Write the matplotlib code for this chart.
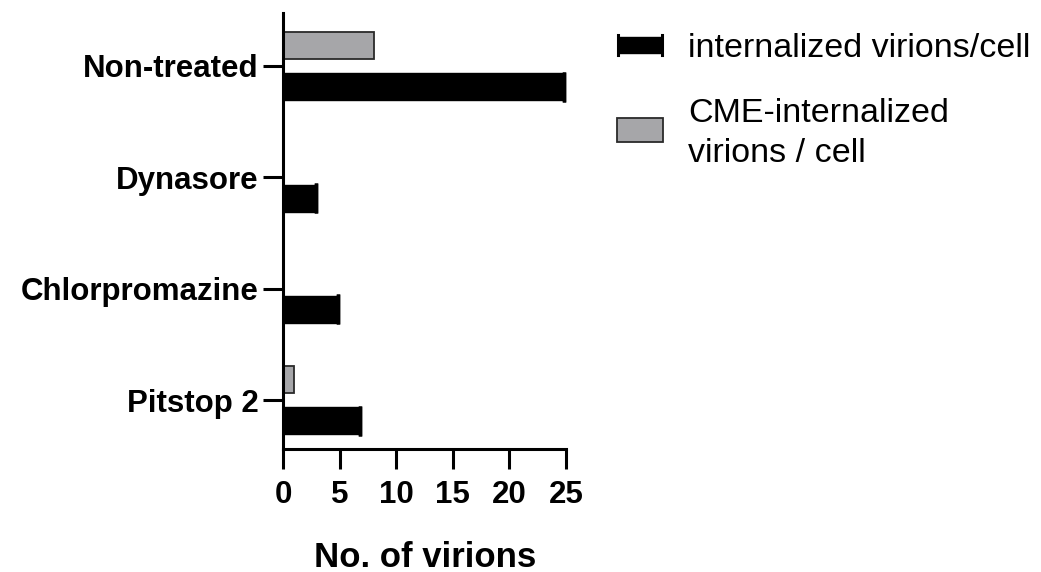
import matplotlib
matplotlib.use("Agg")
import matplotlib.pyplot as plt
from matplotlib.patches import Rectangle
import numpy as np

categories = ["Non-treated", "Dynasore", "Chlorpromazine", "Pitstop 2"]
internalized = [24.8, 2.9, 4.9, 6.8]
cme_internalized = [8.0, 0.0, 0.0, 1.0]
series_labels = ["internalized virions/cell", "CME-internalized", "virions / cell"]
xticks = [0, 5, 10, 15, 20, 25]

plt.rcParams['font.family'] = ['Liberation Sans', 'DejaVu Sans']

W, H = 1041, 572
fig = plt.figure(figsize=(W / 100, H / 100), dpi=100)
ax = fig.add_axes([283 / W, (H - 449) / H, (566 - 283) / W, (449 - 13) / H])

y = np.arange(len(categories))
off = 0.187
h = 0.245
grey = "#a6a6a9"

ax.barh(y - off, cme_internalized, height=h, color=grey, edgecolor="#2a2a2a", linewidth=1.3, zorder=2)
ax.barh(y + off, internalized, height=h, color="black", edgecolor="black", linewidth=1, zorder=2)
ax.errorbar(internalized, y + off, xerr=np.zeros(len(internalized)), fmt="none",
            ecolor="black", capsize=10.5, capthick=2.5, elinewidth=0, zorder=3)

ax.set_xlim(0, 25)
ax.set_ylim(3.44, -0.476)
ax.set_xticks(xticks)
ax.set_xticklabels([str(t) for t in xticks], fontsize=22.5, fontweight="bold")
ax.set_yticks(y)
ax.set_yticklabels(categories, fontsize=22.5, fontweight="bold")

for s in ["top", "right"]:
    ax.spines[s].set_visible(False)
for s in ["left", "bottom"]:
    ax.spines[s].set_linewidth(2.2)

ax.tick_params(axis="x", length=14.5, width=2.2, pad=7.5)
ax.tick_params(axis="y", length=14.5, width=2.2, pad=3)
ax.set_xlabel("No. of virions", fontsize=25, fontweight="bold")
ax.xaxis.label.set_va("baseline")
ax.xaxis.set_label_coords(0.502, (449 - 567) / 436)

# legend drawn manually in figure pixel coordinates
def fx(px):
    return px / W

def fy(py):
    return (H - py) / H

fig.add_artist(Rectangle((fx(618), fy(53)), fx(662) - fx(618), fy(37) - fy(53),
                         transform=fig.transFigure, facecolor="black", edgecolor="black", lw=1))
for xe in (618, 662):
    fig.add_artist(plt.Line2D([fx(xe), fx(xe)], [fy(55), fy(35)], transform=fig.transFigure,
                              color="black", lw=2.2))
fig.add_artist(Rectangle((fx(617), fy(142)), fx(663) - fx(617), fy(118) - fy(142),
                         transform=fig.transFigure, facecolor=grey, edgecolor="#2a2a2a", lw=1.3))
fig.text(fx(688), fy(57), series_labels[0], fontsize=24.5, va="baseline", ha="left")
fig.text(fx(688), fy(122), series_labels[1], fontsize=24.5, va="baseline", ha="left")
fig.text(fx(688), fy(162), series_labels[2], fontsize=24.5, va="baseline", ha="left")

fig.savefig("out.png", dpi=100)
